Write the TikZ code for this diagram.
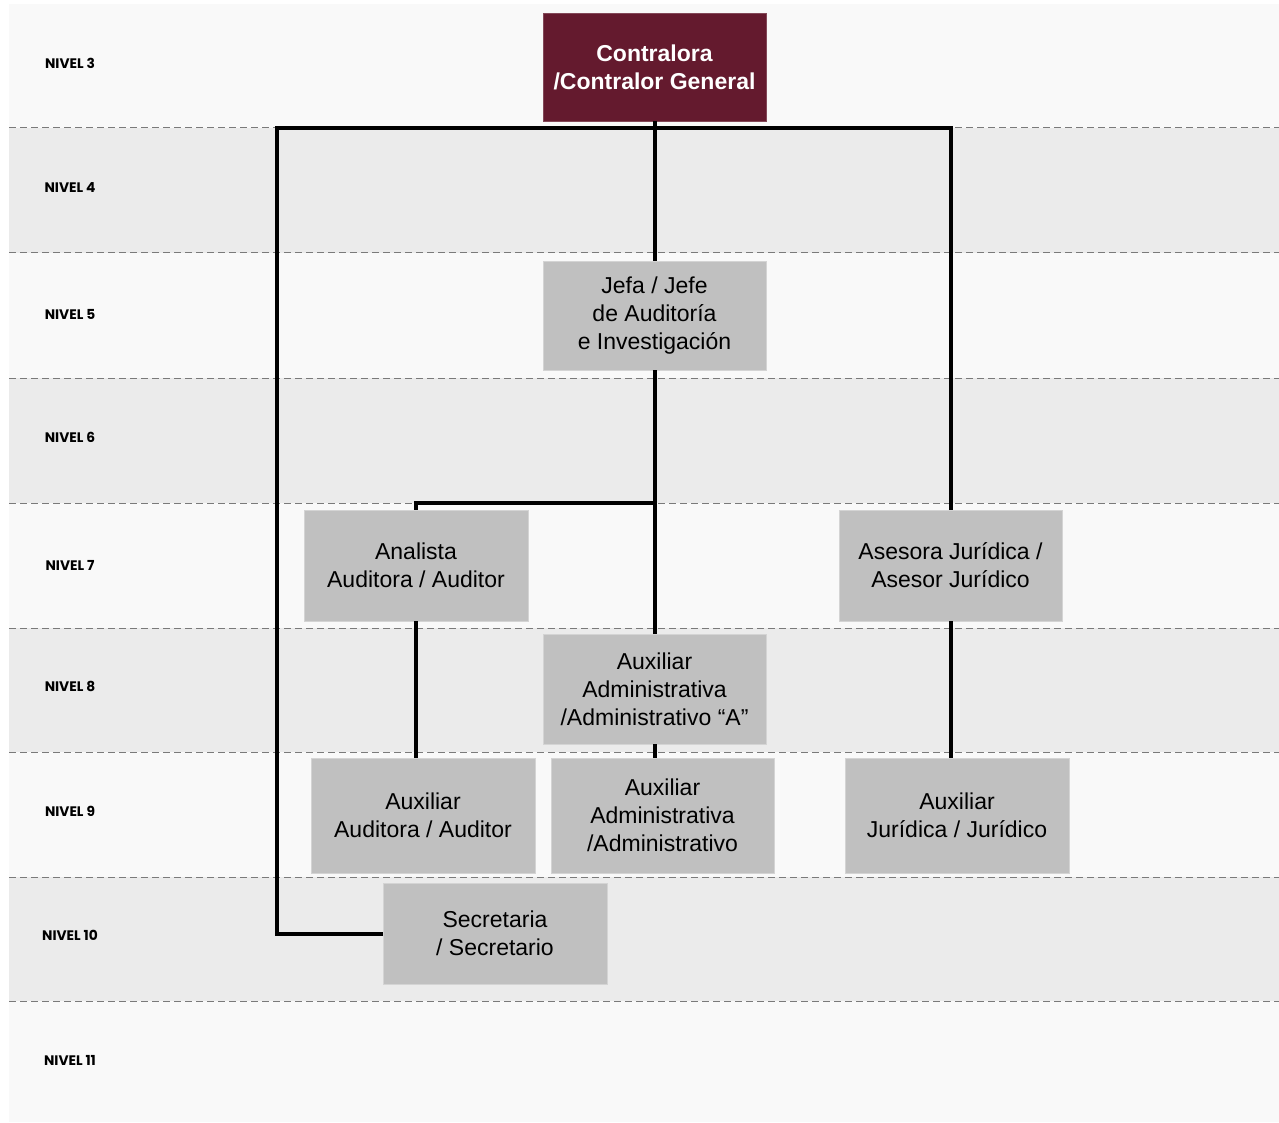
\documentclass[tikz,border=0pt]{standalone}
\usepackage{fontspec}
\setmainfont{Liberation Sans}
\newfontfamily\lvlfont{Poppins}
\definecolor{bandlight}{HTML}{F9F9F9}
\definecolor{banddark}{HTML}{EBEBEB}
\definecolor{boxgray}{HTML}{C0C0C0}
\definecolor{boxedge}{HTML}{D4D4D4}
\definecolor{maroon}{HTML}{641A2E}
\definecolor{dashgray}{HTML}{7A7A7A}
\begin{document}
\begin{tikzpicture}[x=1pt,y=-1pt,
  box/.style={rectangle, fill=boxgray, draw=boxedge, line width=0.8pt, align=center,
    inner sep=0pt, font=\fontsize{23}{28}\selectfont},
  topbox/.style={box, fill=maroon, draw=maroon!80!white, text=white, font=\fontsize{23}{28}\selectfont\bfseries},
  conn/.style={line width=4pt, black, line join=miter},
  lvl/.style={font=\lvlfont\bfseries\fontsize{13.8}{15}\selectfont, inner sep=0pt},
  sep/.style={dashgray, line width=1pt, dash pattern=on 7pt off 4pt}]
\useasboundingbox (0,0) rectangle (1279,1123);
\fill[white] (0,0) rectangle (1279,1123);
% bands
\fill[bandlight] (9,4) rectangle (1279,128);
\fill[banddark] (9,128) rectangle (1279,253);
\fill[bandlight] (9,253) rectangle (1279,378);
\fill[banddark] (9,378) rectangle (1279,503);
\fill[bandlight] (9,503) rectangle (1279,628);
\fill[banddark] (9,628) rectangle (1279,752);
\fill[bandlight] (9,752) rectangle (1279,877);
\fill[banddark] (9,877) rectangle (1279,1001);
\fill[bandlight] (9,1001) rectangle (1279,1122);
\foreach \yy in {128,253,378,503,628,752,877,1001}
  \draw[sep] (9,\yy) -- (1279,\yy);
% level labels
\node[lvl] (l3) at (70,63) {NIVEL 3};
\node[lvl] (l4) at (70,188) {NIVEL 4};
\node[lvl] (l5) at (70,314) {NIVEL 5};
\node[lvl] (l6) at (70,437) {NIVEL 6};
\node[lvl] (l7) at (70,565) {NIVEL 7};
\node[lvl] (l8) at (70,686) {NIVEL 8};
\node[lvl] (l9) at (70,811) {NIVEL 9};
\node[lvl] (l10) at (70,935) {NIVEL 10};
\node[lvl] (l11) at (70,1060) {NIVEL 11};
% boxes
\node[topbox, minimum width=223pt, minimum height=108pt] (contr) at (654.5,67) {Contralora\\/Contralor General};
\node[box, minimum width=223pt, minimum height=109pt] (jefa) at (654.5,315.5) {Jefa / Jefe\\de Auditoría\\e Investigación};
\node[box, minimum width=224pt, minimum height=111pt] (anal) at (416,565.5) {Analista\\Auditora / Auditor};
\node[box, minimum width=223pt, minimum height=111pt] (ases) at (950.5,565.5) {Asesora Jurídica /\\Asesor Jurídico};
\node[box, minimum width=223pt, minimum height=110pt] (auxA) at (654.5,689) {Auxiliar\\Administrativa\\/Administrativo “A”};
\node[box, minimum width=224pt, minimum height=115pt] (auxAud) at (423,815.5) {Auxiliar\\Auditora / Auditor};
\node[box, minimum width=223pt, minimum height=115pt] (auxAdm) at (662.5,815.5) {Auxiliar\\Administrativa\\/Administrativo};
\node[box, minimum width=224pt, minimum height=115pt] (auxJur) at (957,815.5) {Auxiliar\\Jurídica / Jurídico};
\node[box, minimum width=224pt, minimum height=101pt] (secr) at (495,933.5) {Secretaria\\/ Secretario};
% connectors
\coordinate (barL) at (277,128);
\coordinate (barR) at (950.5,128);
\coordinate (br7) at (654.5,503);
\draw[conn] (ases.north) -- (barR) -- (barL) -- (barL |- secr.west) -- (secr.west);
\draw[conn] (contr.south) -- (jefa.north);
\draw[conn] (jefa.south) -- (auxA.north);
\draw[conn] (br7) -- (br7 -| anal.north) -- (anal.north);
\draw[conn] (auxA.south) -- (auxA.south |- auxAdm.north);
\draw[conn] (anal.south) -- (anal.south |- auxAud.north);
\draw[conn] (ases.south) -- (ases.south |- auxJur.north);
\end{tikzpicture}
\end{document}
